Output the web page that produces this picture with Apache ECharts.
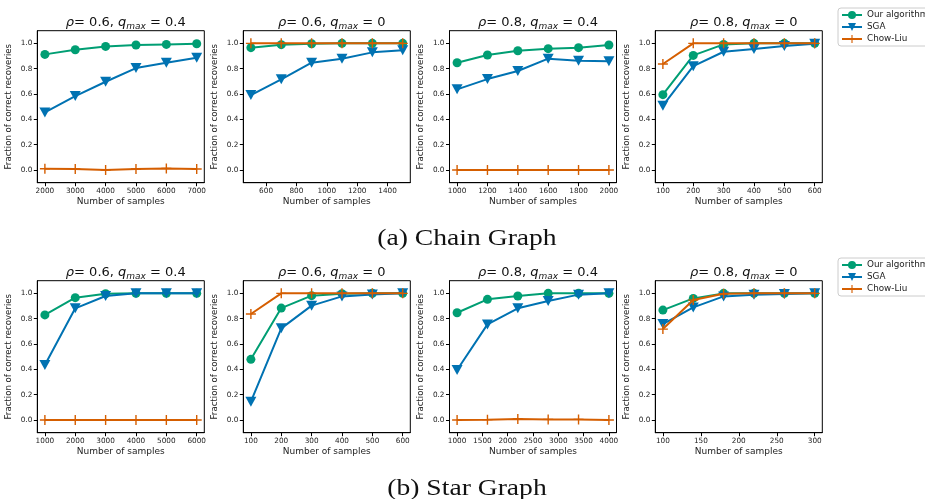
<!DOCTYPE html>
<html>
<head>
<meta charset="utf-8">
<script src="https://cdn.jsdelivr.net/npm/echarts@6/dist/echarts.min.js"></script>
<style>
  html, body { margin: 0; padding: 0; background: #fff; }
  #chart { width: 925px; height: 499px; }
</style>
</head>
<body>
<div id="chart"></div>
<script>
// ---------------- DATA ----------------
const seriesNames = ['Our algorithm', 'SGA', 'Chow-Liu'];
const yTicks = [0.0, 0.2, 0.4, 0.6, 0.8, 1.0];
const captionA = '(a) Chain Graph';
const captionB = '(b) Star Graph';

// (a) Chain graph, rho=0.6, q_max=0.4
const chainA_x = [2000, 3000, 4000, 5000, 6000, 7000];
const chainA_ours = [0.913, 0.950, 0.976, 0.987, 0.992, 0.997];
const chainA_sga = [0.455, 0.584, 0.697, 0.805, 0.847, 0.887];
const chainA_cl = [0.010, 0.008, 0.000, 0.008, 0.013, 0.008];
const chainA_ticks = [2000, 3000, 4000, 5000, 6000, 7000];

// (a) Chain graph, rho=0.6, q_max=0
const chainB_x = [500, 700, 900, 1100, 1300, 1500];
const chainB_ours = [0.966, 0.990, 0.997, 1.0, 1.0, 1.0];
const chainB_sga = [0.592, 0.716, 0.847, 0.879, 0.929, 0.945];
const chainB_cl = [1.0, 1.0, 1.0, 1.0, 1.0, 1.0];
const chainB_ticks = [600, 800, 1000, 1200, 1400];

// (a) Chain graph, rho=0.8, q_max=0.4
const chainC_x = [1000, 1200, 1400, 1600, 1800, 2000];
const chainC_ours = [0.847, 0.908, 0.942, 0.958, 0.966, 0.987];
const chainC_sga = [0.637, 0.718, 0.782, 0.879, 0.863, 0.858];
const chainC_cl = [0.0, 0.0, 0.0, 0.0, 0.0, 0.0];
const chainC_ticks = [1000, 1200, 1400, 1600, 1800, 2000];

// (a) Chain graph, rho=0.8, q_max=0
const chainD_x = [100, 200, 300, 400, 500, 600];
const chainD_ours = [0.595, 0.905, 0.992, 1.0, 1.0, 1.0];
const chainD_sga = [0.508, 0.820, 0.934, 0.955, 0.979, 0.997];
const chainD_cl = [0.837, 1.0, 1.0, 1.0, 1.0, 1.0];
const chainD_ticks = [100, 200, 300, 400, 500, 600];

// (b) Star graph, rho=0.6, q_max=0.4
const starA_x = [1000, 2000, 3000, 4000, 5000, 6000];
const starA_ours = [0.830, 0.966, 0.997, 1.0, 1.0, 1.0];
const starA_sga = [0.434, 0.882, 0.979, 1.0, 1.0, 1.0];
const starA_cl = [0.0, 0.0, 0.0, 0.0, 0.0, 0.0];
const starA_ticks = [1000, 2000, 3000, 4000, 5000, 6000];

// (b) Star graph, rho=0.6, q_max=0
const starB_x = [100, 200, 300, 400, 500, 600];
const starB_ours = [0.479, 0.884, 0.982, 0.997, 1.0, 1.0];
const starB_sga = [0.145, 0.724, 0.903, 0.976, 0.992, 1.0];
const starB_cl = [0.837, 1.0, 1.0, 1.0, 1.0, 1.0];
const starB_ticks = [100, 200, 300, 400, 500, 600];

// (b) Star graph, rho=0.8, q_max=0.4
const starC_x = [1000, 1600, 2200, 2800, 3400, 4000];
const starC_ours = [0.847, 0.953, 0.979, 1.0, 1.0, 1.0];
const starC_sga = [0.395, 0.755, 0.882, 0.939, 0.990, 1.0];
const starC_cl = [0.0, 0.003, 0.008, 0.005, 0.005, 0.0];
const starC_ticks = [1000, 1500, 2000, 2500, 3000, 3500, 4000];

// (b) Star graph, rho=0.8, q_max=0
const starD_x = [100, 140, 180, 220, 260, 300];
const starD_ours = [0.868, 0.960, 1.0, 1.0, 1.0, 1.0];
const starD_sga = [0.758, 0.889, 0.976, 0.990, 0.995, 1.0];
const starD_cl = [0.718, 0.947, 0.997, 1.0, 1.0, 1.0];
const starD_ticks = [100, 150, 200, 250, 300];

const panelRho = ['0.6', '0.6', '0.8', '0.8'];
const panelQ = ['0.4', '0', '0.4', '0'];

// ---------------- BUILD ----------------
const panels = [
  [chainA_x, chainA_ours, chainA_sga, chainA_cl, chainA_ticks],
  [chainB_x, chainB_ours, chainB_sga, chainB_cl, chainB_ticks],
  [chainC_x, chainC_ours, chainC_sga, chainC_cl, chainC_ticks],
  [chainD_x, chainD_ours, chainD_sga, chainD_cl, chainD_ticks],
  [starA_x, starA_ours, starA_sga, starA_cl, starA_ticks],
  [starB_x, starB_ours, starB_sga, starB_cl, starB_ticks],
  [starC_x, starC_ours, starC_sga, starC_cl, starC_ticks],
  [starD_x, starD_ours, starD_sga, starD_cl, starD_ticks]
];

const colors = ['#009E73', '#0072B2', '#D55E00'];
const FONT = 'DejaVu Sans';
const gridLefts = [37.3, 243.3, 449.5, 655.3];
const gridTops = [30.7, 280.7];
const GW = 167, GH = 152;
const plusPath = 'path://M-0.14,-1 L0.14,-1 L0.14,-0.14 L1,-0.14 L1,0.14 L0.14,0.14 L0.14,1 L-0.14,1 L-0.14,0.14 L-1,0.14 L-1,-0.14 L-0.14,-0.14 Z';

const grids = [], xAxes = [], yAxes = [], series = [], titles = [];

panels.forEach((p, i) => {
  const row = Math.floor(i / 4), col = i % 4;
  const [xs, ours, sga, cl, ticks] = p;
  const lo = Math.min(...xs), hi = Math.max(...xs), span = hi - lo;
  grids.push({
    left: gridLefts[col], top: gridTops[row], width: GW, height: GH,
    show: true, borderColor: '#000', borderWidth: 1, backgroundColor: '#fff'
  });
  xAxes.push({
    type: 'value', gridIndex: i, min: lo - 0.05 * span, max: hi + 0.05 * span,
    name: 'Number of samples', nameLocation: 'middle', nameGap: 14.5,
    nameTextStyle: { fontFamily: FONT, fontSize: 9, color: '#222', verticalAlign: 'top' },
    axisLine: { show: true, onZero: false, lineStyle: { color: '#000', width: 1 } },
    axisTick: { show: true, inside: false, length: 3.5, customValues: ticks, lineStyle: { color: '#000' } },
    axisLabel: { customValues: ticks, fontFamily: FONT, fontSize: 7.3, color: '#222', margin: 5,
      showMinLabel: true, showMaxLabel: true, formatter: v => String(Math.round(v)) },
    splitLine: { show: false }
  });
  yAxes.push({
    type: 'value', gridIndex: i, min: -0.1, max: 1.1,
    name: 'Fraction of correct recoveries', nameLocation: 'middle', nameGap: 24,
    nameTextStyle: { fontFamily: FONT, fontSize: 8.6, color: '#222' },
    axisLine: { show: true, lineStyle: { color: '#000', width: 1 } },
    axisTick: { show: true, inside: false, length: 3.5, customValues: yTicks, lineStyle: { color: '#000' } },
    axisLabel: { customValues: yTicks, fontFamily: FONT, fontSize: 7.3, color: '#222', margin: 5,
      formatter: v => Number(v).toFixed(1) },
    splitLine: { show: false }
  });
  titles.push({
    text: `{i|ρ}{n|= ${panelRho[col]}, }{i|q}{s|max}{n| = ${panelQ[col]}}`,
    left: gridLefts[col] + GW / 2, top: gridTops[row] - 21, textAlign: 'center',
    textStyle: {
      fontWeight: 'normal',
      rich: {
        n: { fontFamily: FONT, fontSize: 13, fontWeight: 'normal', color: '#111' },
        i: { fontFamily: FONT, fontSize: 13, fontStyle: 'italic', fontWeight: 'normal', color: '#111' },
        s: { fontFamily: FONT, fontSize: 9, fontStyle: 'italic', fontWeight: 'normal', color: '#111', padding: [7, 0, 0, 0] }
      }
    }
  });
  const mk = (name, ys, idx, extra) => Object.assign({
    name, type: 'line', xAxisIndex: i, yAxisIndex: i,
    data: xs.map((x, k) => [x, ys[k]]),
    lineStyle: { color: colors[idx], width: 2 },
    itemStyle: { color: colors[idx] },
    emphasis: { disabled: true },
    animation: false, z: 2 + idx
  }, extra);
  series.push(mk(seriesNames[0], ours, 0, { symbol: 'circle', symbolSize: 9 }));
  series.push(mk(seriesNames[1], sga, 1, { symbol: 'triangle', symbolRotate: 180, symbolSize: [11, 10] }));
  series.push(mk(seriesNames[2], cl, 2, { symbol: plusPath, symbolSize: 10 }));
});

const legends = gridTops.map(t => ({
  data: seriesNames, orient: 'vertical', left: 838, top: t - 22.7,
  itemWidth: 20, itemHeight: 10, itemGap: 3, padding: [2.5, 4, 2.5, 3],
  borderColor: '#ccc', borderWidth: 1, borderRadius: 3, backgroundColor: '#fff',
  textStyle: { fontFamily: FONT, fontSize: 8.8, color: '#222' },
  selectedMode: false
}));

const captionStyle = (text) => ({
  text, x: 0, y: 0, font: '24px "Liberation Serif"', fill: '#111',
  align: 'center', verticalAlign: 'middle', textAlign: 'center', textVerticalAlign: 'middle'
});

const chart = echarts.init(document.getElementById('chart'), null, { renderer: 'canvas' });
chart.setOption({
  animation: false,
  backgroundColor: '#fff',
  title: titles,
  legend: legends,
  grid: grids,
  xAxis: xAxes,
  yAxis: yAxes,
  series: series,
  graphic: [
    { type: 'text', x: 467, y: 239, scaleX: 1.15, style: captionStyle(captionA) },
    { type: 'text', x: 467, y: 489, scaleX: 1.15, style: captionStyle(captionB) }
  ]
});
</script>
</body>
</html>
